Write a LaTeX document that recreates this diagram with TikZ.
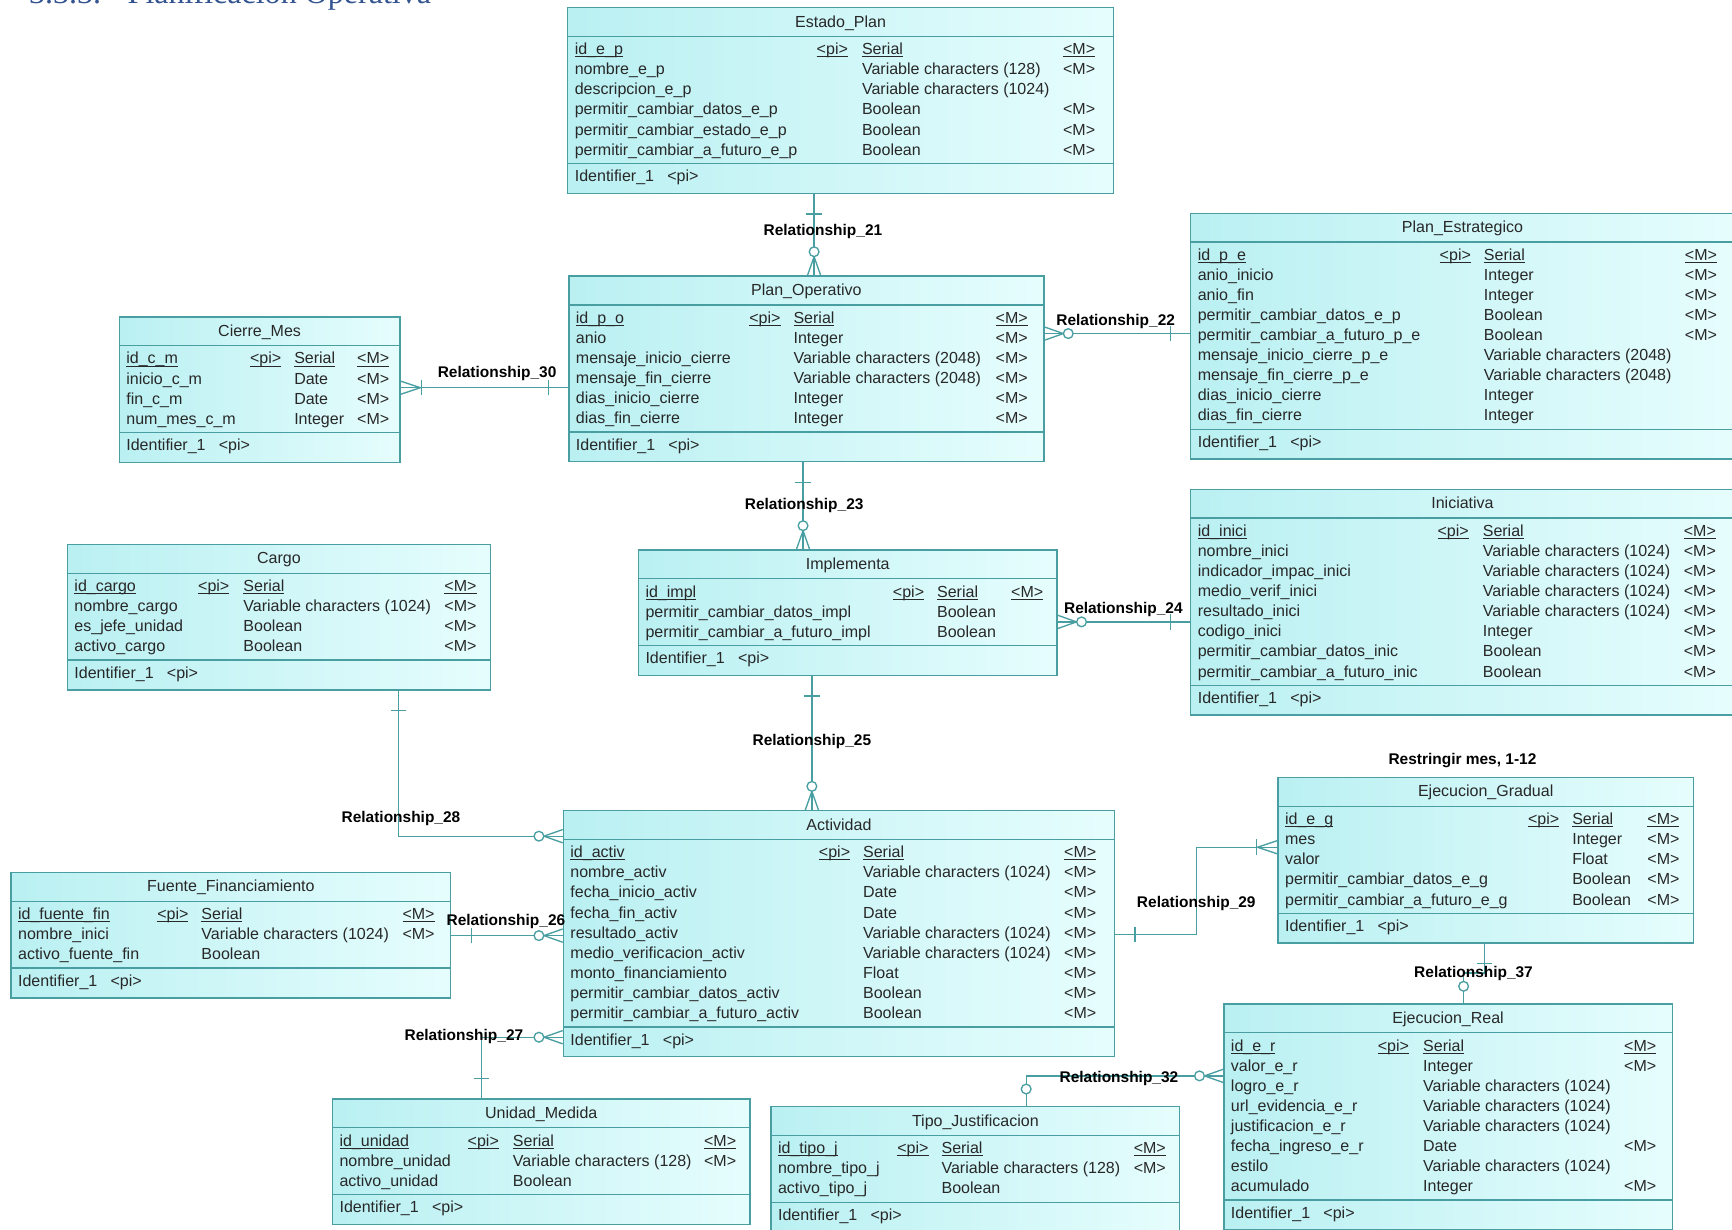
\documentclass[tikz,border=0pt]{standalone}
\usepackage{fontspec}
\setmainfont{Liberation Sans}
\newfontfamily\hdserif{Liberation Serif}
\usetikzlibrary{fit}

\definecolor{bordc}{RGB}{72,158,160}
\definecolor{boxL}{RGB}{186,240,242}
\definecolor{boxR}{RGB}{230,253,253}
\definecolor{txtc}{RGB}{40,40,40}
\definecolor{headblue}{RGB}{52,84,145}

\newcommand\afont{\fontsize{7.25}{8}\selectfont}
\newcommand\lfont{\fontsize{7}{8}\selectfont\bfseries}
\newcommand\ulin[1]{\setbox0\hbox{#1}\rlap{\rule[-1.1pt]{\wd0}{0.4pt}}\box0}

\tikzset{
  ebox/.style={draw=bordc, line width=0.6pt, left color=boxL, right color=boxR, inner sep=0pt},
  sepline/.style={draw=bordc, line width=0.6pt},
  attr/.style={anchor=base west, inner sep=0pt, font=\afont, text=txtc},
  rel/.style={draw=bordc, line width=0.6pt},
  lbl/.style={anchor=base, inner sep=0pt, font=\lfont, text=black},
}

\newcount\rowc
% id, left, top, right, nrows, title
\newcommand\Ent[6]{%
  \pgfmathsetmacro\eb{#3+77+18.2*(#5-1)}%
  \node[ebox, fit={(#2,#3) (#4,\eb)}] (#1) {};
  \draw[sepline] (#2,#3+26) -- (#4,#3+26);
  \draw[sepline] (#2,\eb-27) -- (#4,\eb-27);
  \node[attr, anchor=base] (#1-title) at ({(#2+#4)/2},#3+17.5) {#6};
  \node[attr] (#1-ident) at (#2+6,\eb-10.5) {Identifier\_1\hspace{6pt}<pi>};
  \pgfmathsetmacro\ry{#3+38}\xdef\ry{\ry}%
  \xdef\eid{#1}\global\rowc=0\relax
}
\newcommand\Cols[4]{\gdef\cA{#1}\gdef\cB{#2}\gdef\cC{#3}\gdef\cD{#4}}
\newcommand\Nxt{\pgfmathsetmacro\tmpy{\ry+18.2}\xdef\ry{\tmpy}}
\newcommand\PK[2]{\global\advance\rowc by 1\relax
  \node[attr] (\eid-\the\rowc a) at (\cA,\ry+4.5) {\ulin{#1}};
  \node[attr] (\eid-\the\rowc b) at (\cB,\ry+4.5) {\ulin{<pi>}};
  \node[attr] (\eid-\the\rowc c) at (\cC,\ry+4.5) {\ulin{#2}};
  \node[attr] (\eid-\the\rowc d) at (\cD,\ry+4.5) {\ulin{<M>}};
  \Nxt}
\newcommand\AR[3]{\global\advance\rowc by 1\relax
  \node[attr] (\eid-\the\rowc a) at (\cA,\ry+4.5) {#1};
  \node[attr] (\eid-\the\rowc c) at (\cC,\ry+4.5) {#2};
  \ifx&#3&\else\node[attr] (\eid-\the\rowc d) at (\cD,\ry+4.5) {#3};\fi
  \Nxt}

% connector end decorations: point, outward angle
\newcommand\dOne[2]{\begin{scope}[shift={#1},rotate=#2]\draw[rel] (18,-7) -- (18,7);\end{scope}}
\newcommand\dMany[2]{\begin{scope}[shift={#1},rotate=#2]\draw[rel] (0,-6) -- (17,0) -- (0,6);\draw[rel,fill=white] (21.5,0) circle[radius=2.2pt];\end{scope}}
\newcommand\dOneMany[2]{\begin{scope}[shift={#1},rotate=#2]\draw[rel] (0,-6) -- (18,0) -- (0,6);\draw[rel] (19,-7) -- (19,7);\end{scope}}
\newcommand\dZeroOne[2]{\begin{scope}[shift={#1},rotate=#2]\draw[rel,fill=white] (15.5,0) circle[radius=2.2pt];\end{scope}}

\begin{document}
\begin{tikzpicture}[x=0.5pt,y=-0.5pt]
\useasboundingbox (0,0) rectangle (1568,1113);
\clip (0,0) rectangle (1568,1113);
\fill[white] (0,0) rectangle (1568,1113);

\node[anchor=base west, inner sep=0pt, font=\hdserif\fontsize{14.5}{17}\selectfont, text=headblue] (heading) at (26,3.5) {3.3.3.\hspace{12pt}Planificación Operativa};

% ---------- connectors (drawn first) ----------
\draw[rel] (737,175) -- (737,250);
\draw[rel] (945,302) -- (1078,302);
\draw[rel] (362,351) -- (515,351);
\draw[rel] (727,418) -- (727,498);
\draw[rel] (957,563) -- (1078,563);
\draw[rel] (735,610) -- (735,734);

% ---------- entities ----------
\Ent{ep}{514}{7}{1008}{6}{Estado\_Plan}
\Cols{520}{739}{780}{962}
\PK{id\_e\_p}{Serial}
\AR{nombre\_e\_p}{Variable characters (128)}{<M>}
\AR{descripcion\_e\_p}{Variable characters (1024)}{}
\AR{permitir\_cambiar\_datos\_e\_p}{Boolean}{<M>}
\AR{permitir\_cambiar\_estado\_e\_p}{Boolean}{<M>}
\AR{permitir\_cambiar\_a\_futuro\_e\_p}{Boolean}{<M>}

\Ent{pe}{1078}{193}{1570}{9}{Plan\_Estrategico}
\Cols{1084}{1303}{1343}{1525}
\PK{id\_p\_e}{Serial}
\AR{anio\_inicio}{Integer}{<M>}
\AR{anio\_fin}{Integer}{<M>}
\AR{permitir\_cambiar\_datos\_e\_p}{Boolean}{<M>}
\AR{permitir\_cambiar\_a\_futuro\_p\_e}{Boolean}{<M>}
\AR{mensaje\_inicio\_cierre\_p\_e}{Variable characters (2048)}{}
\AR{mensaje\_fin\_cierre\_p\_e}{Variable characters (2048)}{}
\AR{dias\_inicio\_cierre}{Integer}{}
\AR{dias\_fin\_cierre}{Integer}{}

\Ent{po}{515}{250}{945}{6}{Plan\_Operativo}
\Cols{521}{678}{718}{901}
\PK{id\_p\_o}{Serial}
\AR{anio}{Integer}{<M>}
\AR{mensaje\_inicio\_cierre}{Variable characters (2048)}{<M>}
\AR{mensaje\_fin\_cierre}{Variable characters (2048)}{<M>}
\AR{dias\_inicio\_cierre}{Integer}{<M>}
\AR{dias\_fin\_cierre}{Integer}{<M>}

\Ent{cm}{108}{287}{362}{4}{Cierre\_Mes}
\Cols{114}{226}{266}{323}
\PK{id\_c\_m}{Serial}
\AR{inicio\_c\_m}{Date}{<M>}
\AR{fin\_c\_m}{Date}{<M>}
\AR{num\_mes\_c\_m}{Integer}{<M>}

\Ent{ini}{1078}{443}{1570}{8}{Iniciativa}
\Cols{1084}{1301}{1342}{1524}
\PK{id\_inici}{Serial}
\AR{nombre\_inici}{Variable characters (1024)}{<M>}
\AR{indicador\_impac\_inici}{Variable characters (1024)}{<M>}
\AR{medio\_verif\_inici}{Variable characters (1024)}{<M>}
\AR{resultado\_inici}{Variable characters (1024)}{<M>}
\AR{codigo\_inici}{Integer}{<M>}
\AR{permitir\_cambiar\_datos\_inic}{Boolean}{<M>}
\AR{permitir\_cambiar\_a\_futuro\_inic}{Boolean}{<M>}

\Ent{impl}{578}{498}{957}{3}{Implementa}
\Cols{584}{808}{848}{915}
\PK{id\_impl}{Serial}
\AR{permitir\_cambiar\_datos\_impl}{Boolean}{}
\AR{permitir\_cambiar\_a\_futuro\_impl}{Boolean}{}

\Ent{cargo}{61}{493}{444}{4}{Cargo}
\Cols{67}{179}{220}{402}
\PK{id\_cargo}{Serial}
\AR{nombre\_cargo}{Variable characters (1024)}{<M>}
\AR{es\_jefe\_unidad}{Boolean}{<M>}
\AR{activo\_cargo}{Boolean}{<M>}

\Ent{act}{510}{734}{1009}{9}{Actividad}
\Cols{516}{741}{781}{963}
\PK{id\_activ}{Serial}
\AR{nombre\_activ}{Variable characters (1024)}{<M>}
\AR{fecha\_inicio\_activ}{Date}{<M>}
\AR{fecha\_fin\_activ}{Date}{<M>}
\AR{resultado\_activ}{Variable characters (1024)}{<M>}
\AR{medio\_verificacion\_activ}{Variable characters (1024)}{<M>}
\AR{monto\_financiamiento}{Float}{<M>}
\AR{permitir\_cambiar\_datos\_activ}{Boolean}{<M>}
\AR{permitir\_cambiar\_a\_futuro\_activ}{Boolean}{<M>}

\Ent{eg}{1157}{704}{1533}{5}{Ejecucion\_Gradual}
\Cols{1163}{1383}{1423}{1491}
\PK{id\_e\_g}{Serial}
\AR{mes}{Integer}{<M>}
\AR{valor}{Float}{<M>}
\AR{permitir\_cambiar\_datos\_e\_g}{Boolean}{<M>}
\AR{permitir\_cambiar\_a\_futuro\_e\_g}{Boolean}{<M>}

\Ent{ff}{10}{790}{408}{3}{Fuente\_Financiamiento}
\Cols{16}{142}{182}{364}
\PK{id\_fuente\_fin}{Serial}
\AR{nombre\_inici}{Variable characters (1024)}{<M>}
\AR{activo\_fuente\_fin}{Boolean}{}

\Ent{er}{1108}{909}{1514}{8}{Ejecucion\_Real}
\Cols{1114}{1247}{1288}{1470}
\PK{id\_e\_r}{Serial}
\AR{valor\_e\_r}{Integer}{<M>}
\AR{logro\_e\_r}{Variable characters (1024)}{}
\AR{url\_evidencia\_e\_r}{Variable characters (1024)}{}
\AR{justificacion\_e\_r}{Variable characters (1024)}{}
\AR{fecha\_ingreso\_e\_r}{Date}{<M>}
\AR{estilo}{Variable characters (1024)}{}
\AR{acumulado}{Integer}{<M>}

\Ent{um}{301}{995}{679}{3}{Unidad\_Medida}
\Cols{307}{423}{464}{637}
\PK{id\_unidad}{Serial}
\AR{nombre\_unidad}{Variable characters (128)}{<M>}
\AR{activo\_unidad}{Boolean}{}

\Ent{tj}{698}{1002}{1068}{3}{Tipo\_Justificacion}
\Cols{704}{812}{852}{1026}
\PK{id\_tipo\_j}{Serial}
\AR{nombre\_tipo\_j}{Variable characters (128)}{<M>}
\AR{activo\_tipo\_j}{Boolean}{}

% ---------- remaining connectors ----------
\draw[rel] (cargo.south -| 361,0) |- (act.west |- 0,757);
\draw[rel] (ff.east |- 0,847) -- (act.west |- 0,847);
\draw[rel] (um.north -| 436,0) |- (act.west |- 0,939);
\draw[rel] (act.east |- 0,846) -- (1083,846) |- (eg.west |- 0,767);
\draw[rel] (eg.south -| 1344,0) -- (1344,881) -- (1325,881) -- (er.north -| 1325,0);
\draw[rel] (er.west |- 0,974) -| (tj.north -| 929,0);

% ---------- end symbols ----------
\dOne{(ep.south -| 737,0)}{-90}
\dMany{(po.north -| 737,0)}{90}
\dMany{(po.east |- 0,302)}{0}
\dOne{(pe.west |- 0,302)}{180}
\dOneMany{(cm.east |- 0,351)}{0}
\dOne{(po.west |- 0,351)}{180}
\dOne{(po.south -| 727,0)}{-90}
\dMany{(impl.north -| 727,0)}{90}
\dMany{(impl.east |- 0,563)}{0}
\dOne{(ini.west |- 0,563)}{180}
\dOne{(impl.south -| 735,0)}{-90}
\dMany{(act.north -| 735,0)}{90}
\dOne{(cargo.south -| 361,0)}{-90}
\dMany{(act.west |- 0,757)}{180}
\dOne{(ff.east |- 0,847)}{0}
\dMany{(act.west |- 0,847)}{180}
\dOne{(um.north -| 436,0)}{90}
\dMany{(act.west |- 0,939)}{180}
\dOne{(act.east |- 0,846)}{0}
\dOneMany{(eg.west |- 0,767)}{180}
\dOne{(eg.south -| 1344,0)}{-90}
\dZeroOne{(er.north -| 1325,0)}{90}
\dMany{(er.west |- 0,974)}{180}
\dZeroOne{(tj.north -| 929,0)}{90}

% ---------- labels ----------
\node[lbl] (l21) at (745,213) {Relationship\_21};
\node[lbl] (l22) at (1010,295) {Relationship\_22};
\node[lbl] (l30) at (450,342) {Relationship\_30};
\node[lbl] (l23) at (728,461) {Relationship\_23};
\node[lbl] (l24) at (1017,555) {Relationship\_24};
\node[lbl] (l25) at (735,675) {Relationship\_25};
\node[lbl] (l28) at (363,745) {Relationship\_28};
\node[lbl] (l26) at (458,838) {Relationship\_26};
\node[lbl] (l27) at (420,942) {Relationship\_27};
\node[lbl] (l29) at (1083,822) {Relationship\_29};
\node[lbl] (l37) at (1334,885) {Relationship\_37};
\node[lbl] (l32) at (1013,980) {Relationship\_32};
\node[lbl] (lmes) at (1324,692) {Restringir mes, 1-12};
\end{tikzpicture}
\end{document}
